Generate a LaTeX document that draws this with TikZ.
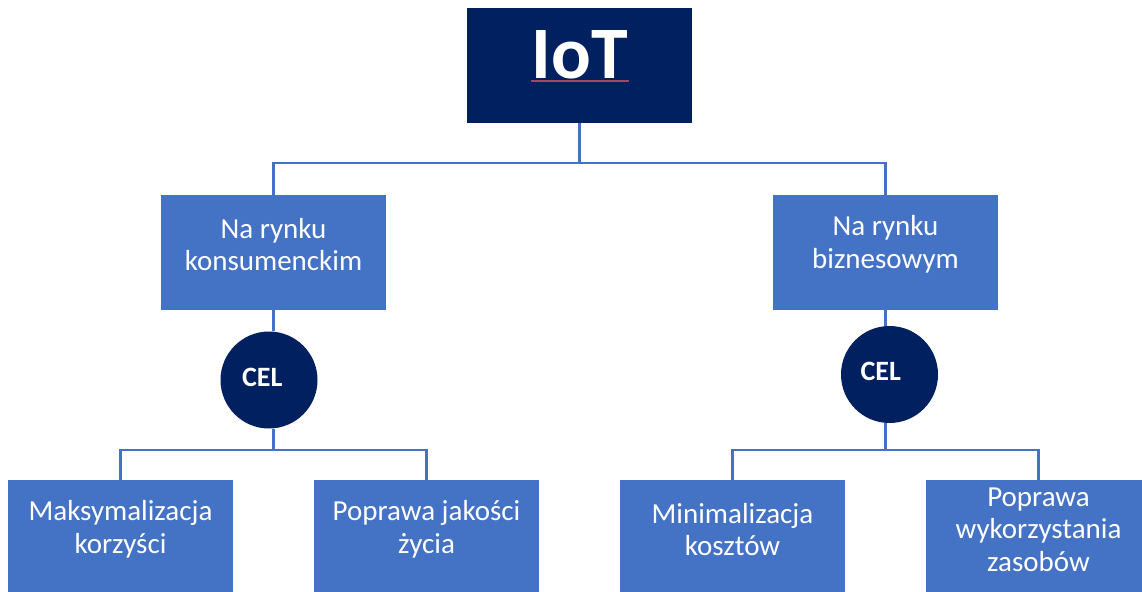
\documentclass[tikz,border=0pt]{standalone}
\usepackage{fontspec}
\setmainfont{Carlito}
\definecolor{granat}{HTML}{002060}
\definecolor{niebieski}{HTML}{4472C4}
\definecolor{podkreslenie}{HTML}{A04A68}
\tikzset{
  pole/.style={rectangle, fill=niebieski, minimum width=168.75pt, minimum height=86.25pt, inner sep=0pt},
  napis/.style={text=white, align=center, font=\fontsize{21.75}{24.5}\selectfont, yshift=6pt},
  cel/.style={circle, fill=granat, minimum size=72.75pt, inner sep=0pt},
  linia/.style={draw=niebieski, line width=1.6pt},
}
\begin{document}
\begin{tikzpicture}[x=0.75pt, y=-0.75pt]
  \useasboundingbox (0,0) rectangle (1142,592);

  % gora
  \node[pole, fill=granat, label={[napis, font=\bfseries\fontsize{55.5}{60}\selectfont, yshift=1.8pt]center:IoT}] (iot) at (579.5,65.5) {};
  \draw[podkreslenie, line width=0.8pt] (531,81) -- (629,81);

  % rynki
  \node[pole, label={[napis]center:Na rynku\\konsumenckim}] (kons) at (273.5,252.5) {};
  \node[pole, label={[napis]center:Na rynku\\biznesowym}] (biz) at (885.5,252.5) {};

  \node[cel, label={[napis, font=\bfseries\fontsize{21}{24}\selectfont, xshift=-5pt, yshift=-3.7pt]center:CEL}] (celL) at (269,380) {};
  \node[cel, label={[napis, font=\bfseries\fontsize{21}{24}\selectfont, xshift=-6.5pt, yshift=-3.5pt]center:CEL}] (celR) at (889.5,374.5) {};

  % cele
  \node[pole, label={[napis]center:Maksymalizacja\\korzyści}] (maks) at (120.5,537.5) {};
  \node[pole, label={[napis]center:Poprawa jakości\\życia}] (jakosc) at (426.5,537.5) {};
  \node[pole, label={[napis]center:Minimalizacja\\kosztów}] (koszty) at (732.5,537.5) {};
  \node[pole, label={[napis]center:Poprawa\\wykorzystania\\zasobów}] (zasoby) at (1038.5,537.5) {};

  % polaczenia
  \coordinate (rozw) at (579.5,163);
  \draw[linia] (iot.south) -- (rozw) -| (kons.north);
  \draw[linia] (rozw) -| (biz.north);

  \draw[linia] (kons.south) -- (kons.south |- celL.north);
  \draw[linia] (biz.south) -- (biz.south |- celR.north);

  \coordinate (rozwL) at (273.5,450);
  \draw[linia] (rozwL |- celL.south) -- (rozwL) -| (maks.north);
  \draw[linia] (rozwL) -| (jakosc.north);

  \coordinate (rozwR) at (885.5,450);
  \draw[linia] (rozwR |- celR.south) -- (rozwR) -| (koszty.north);
  \draw[linia] (rozwR) -| (zasoby.north);
\end{tikzpicture}
\end{document}
